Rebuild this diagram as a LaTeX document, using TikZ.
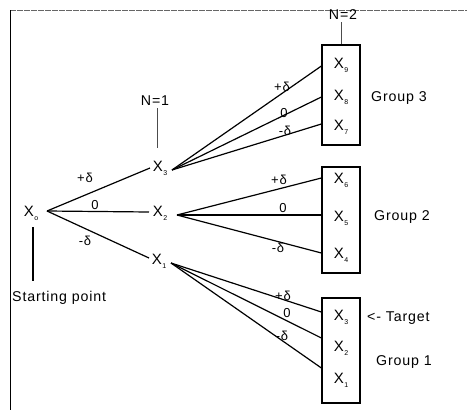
\documentclass[tikz,border=0pt]{standalone}
\usepackage{fontspec}
\setmainfont{Liberation Sans}[LetterSpace=6]
\newcommand\xsub[1]{X\kern0.6pt\raisebox{-0.5ex}{\fontsize{7}{7}\selectfont #1}}
\begin{document}
\begin{tikzpicture}[x=1pt,y=-1pt,
  lbl/.style={font=\fontsize{14.2}{16}\selectfont, inner sep=0pt},
  xl/.style={font=\fontsize{15}{16}\selectfont, inner sep=0pt},
  dl/.style={font=\fontsize{13}{14}\selectfont, inner sep=0pt},
  branch/.style={line width=1.2pt},
  groupbox/.style={draw, line width=1.2pt, minimum width=38pt, inner sep=0pt},
  tick/.style={line width=0.5pt, draw=black!70}]
\useasboundingbox (0,0) rectangle (467,410);

% frame of the figure
\draw[line width=0.5pt, draw=black!60, dash pattern=on 6pt off 1pt] (10,10) -- (467,10);
\draw[line width=0.7pt] (10,10) -- (10,410);

% starting point
\node[xl] (x0) at (31,213) {\xsub{o}};
\coordinate (x0r) at (47,211);
\draw[line width=2pt] (33,227) -- (33,281) coordinate (sp);
\node[lbl, anchor=west] (start) at (12,298) {Starting point};

% first step, N=1
\node[xl] (x3) at (160,168) {\xsub{3}};
\node[xl] (x2) at (160,213) {\xsub{2}};
\node[xl] (x1) at (159,261) {\xsub{1}};
\coordinate (x3l) at (150,168);
\coordinate (x2l) at (149,212);
\coordinate (x1l) at (149,258);
\coordinate (x3r) at (172,170);
\coordinate (x2r) at (177,215);
\coordinate (x1r) at (171,263);
\node[lbl] (n1) at (155,101) {N{=}1};
\coordinate (n1b) at (157,108);
\coordinate (n1e) at (157,148);
\draw[tick] (n1b) -- (n1e);

\draw[branch] (x0r) -- (x3l);
\draw[branch] (x0r) -- (x2l);
\draw[branch] (x0r) -- (x1l);
\node[dl] (d0a) at (85,178) {+δ};
\node[dl] (d0b) at (95,205) {0};
\node[dl] (d0c) at (85,241) {-δ};

% second step, N=2: three groups
\node[groupbox, minimum height=100pt] (g3) at (341,95) {};
\node[groupbox, minimum height=106pt] (g2) at (341,220) {};
\node[groupbox, minimum height=105pt] (g1) at (341,350.5) {};

\node[xl] (x9) at (341,65) {\xsub{9}};
\node[xl] (x8) at (341,97) {\xsub{8}};
\node[xl] (x7) at (341,127) {\xsub{7}};
\node[xl] (x6) at (341,180) {\xsub{6}};
\node[xl] (x5) at (341,218) {\xsub{5}};
\node[xl] (x4) at (341,255) {\xsub{4}};
\node[xl] (y3) at (341,317) {\xsub{3}};
\node[xl] (y2) at (341,348) {\xsub{2}};
\node[xl] (y1) at (341,380) {\xsub{1}};

\node[lbl] (n2) at (343,15) {N{=}2};
\coordinate (n2b) at (341,22);
\draw[tick] (n2b) -- (g3.north -| n2b);

% branches into group 3
\draw[branch] (x3r) -- (g3.west |- 0,66);
\draw[branch] (x3r) -- (g3.west |- 0,97);
\draw[branch] (x3r) -- (g3.west |- 0,124);
\node[dl] (d3a) at (282,87) {+δ};
\node[dl] (d3b) at (284,113) {0};
\node[dl] (d3c) at (285,131) {-δ};

% branches into group 2
\draw[branch] (x2r) -- (g2.west |- 0,178);
\draw[branch] (x2r) -- (g2.west |- 0,215);
\draw[branch] (x2r) -- (g2.west |- 0,253);
\node[dl] (d2a) at (279,180) {+δ};
\node[dl] (d2b) at (283,208) {0};
\node[dl] (d2c) at (278,248) {-δ};

% branches into group 1
\draw[branch] (x1r) -- (g1.west |- 0,312);
\draw[branch] (x1r) -- (g1.west |- 0,338);
\draw[branch] (x1r) -- (g1.west |- 0,368);
\node[dl] (d1a) at (283,296) {+δ};
\node[dl] (d1b) at (287,313) {0};
\node[dl] (d1c) at (282,336) {-δ};

% group captions
\node[lbl, anchor=west] (c3) at (371,98) {Group 3};
\node[lbl, anchor=west] (c2) at (374,217) {Group 2};
\node[lbl, anchor=west] (c1) at (376,362) {Group 1};
\node[lbl, anchor=west] (tg) at (367,318) {<- Target};
\end{tikzpicture}
\end{document}
